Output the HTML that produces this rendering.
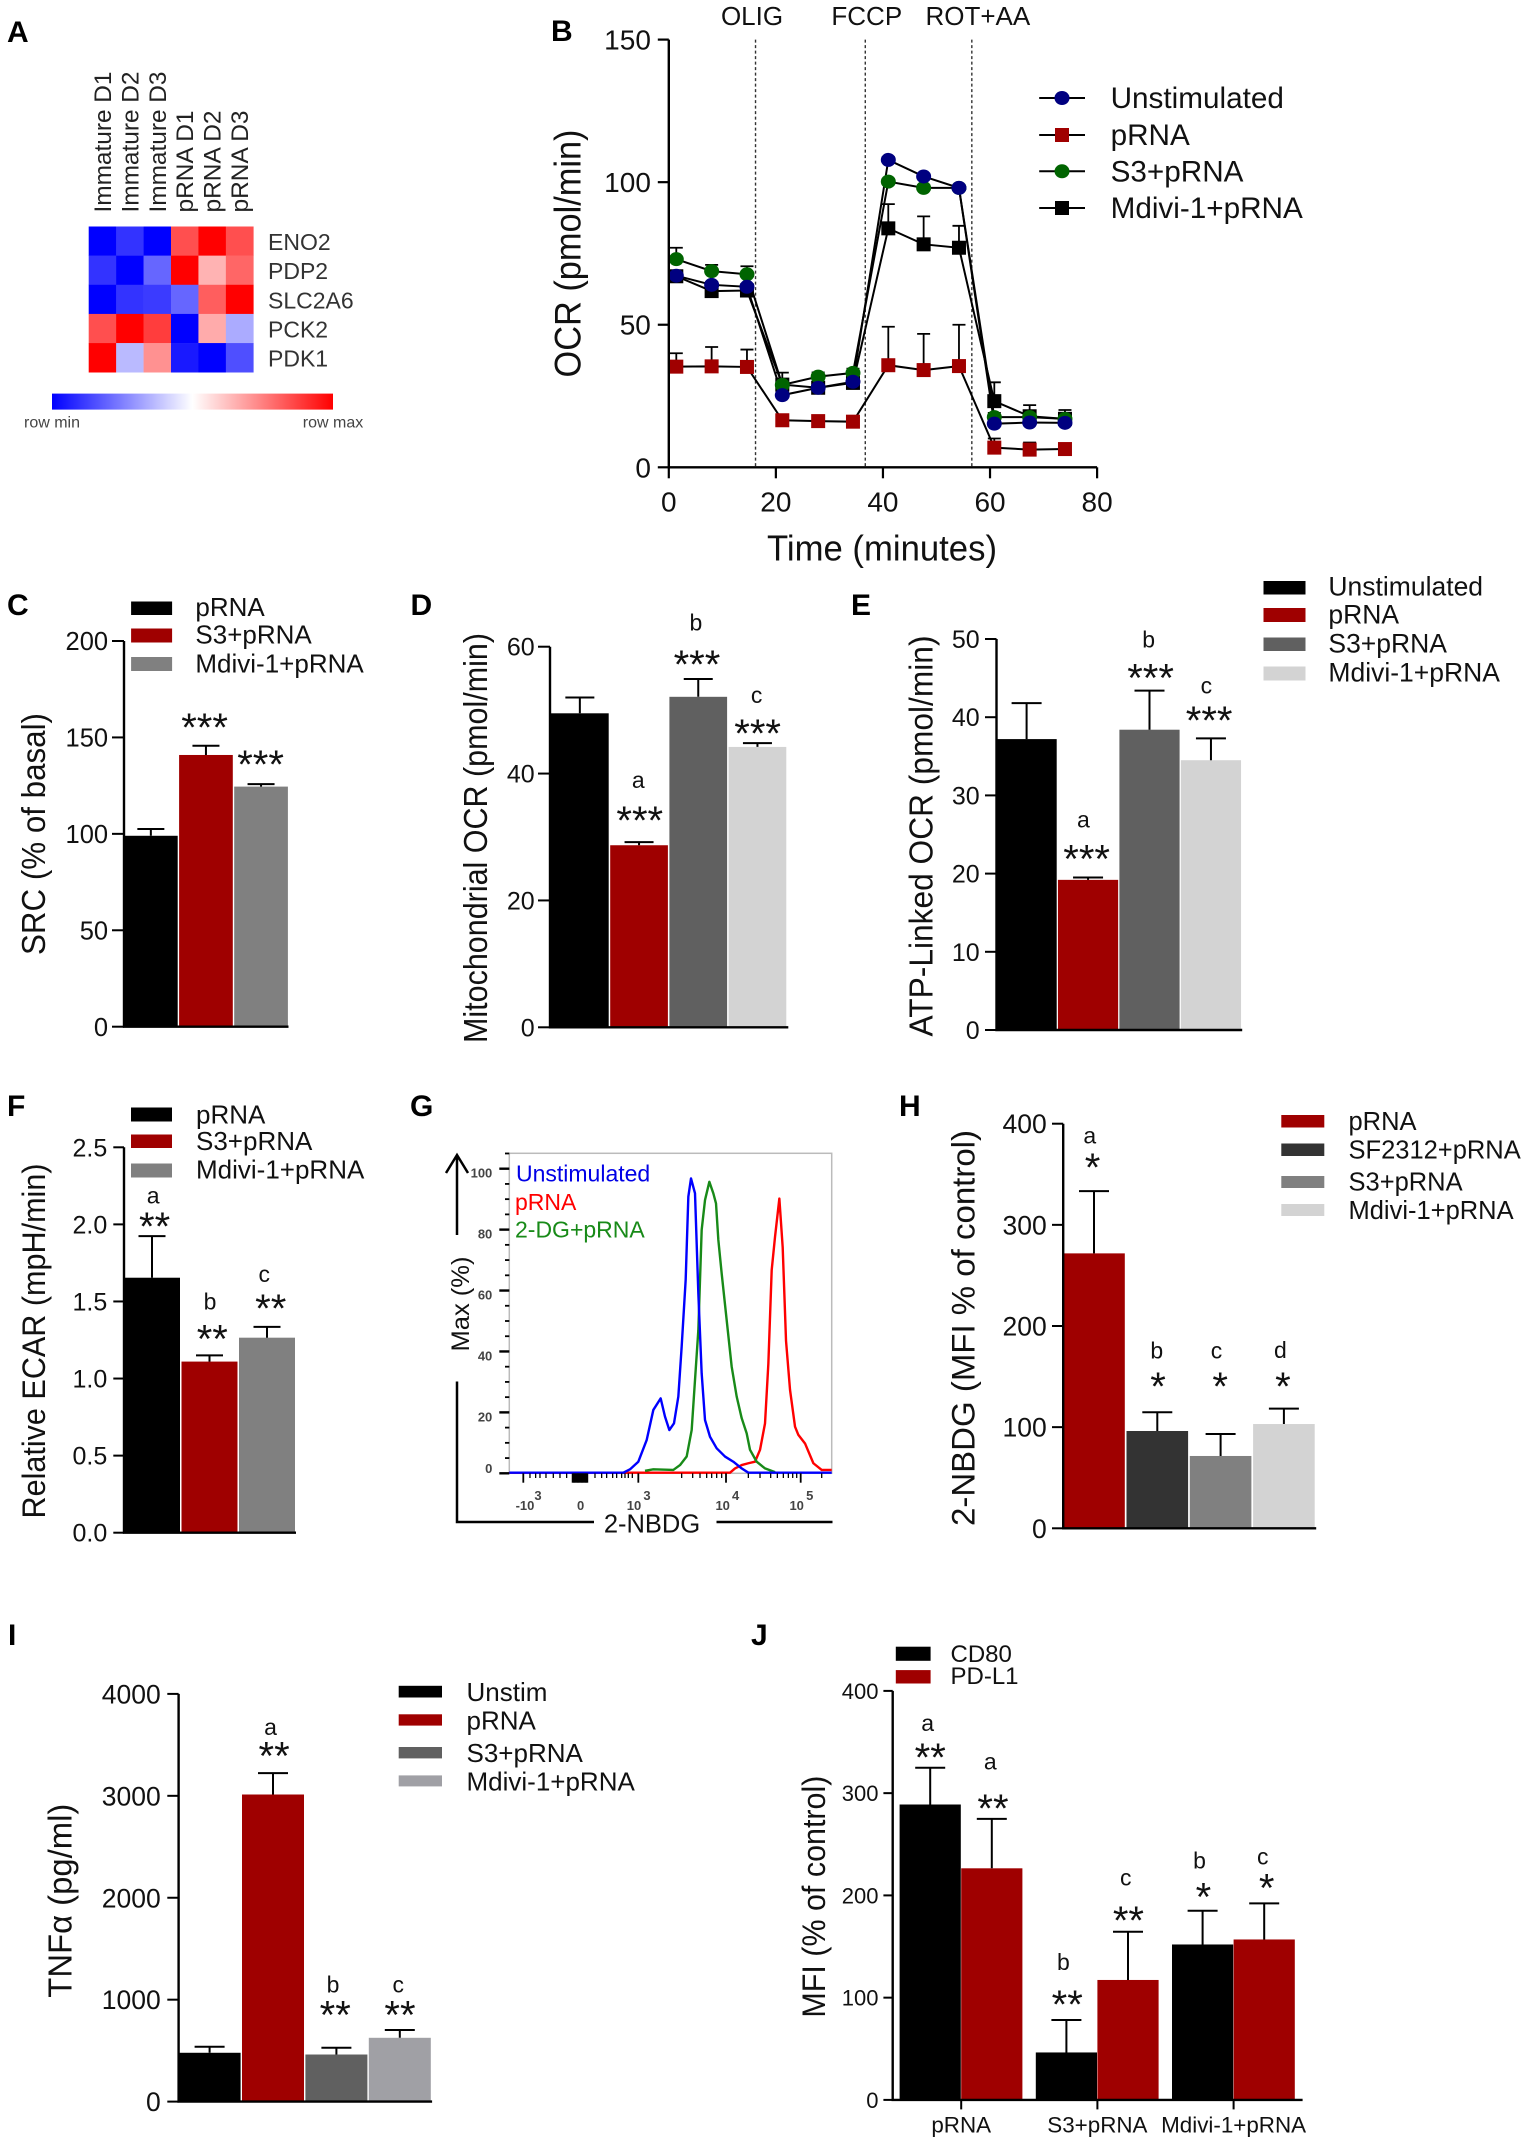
<!DOCTYPE html>
<html lang="en">
<head>
<meta charset="utf-8">
<title>Metabolic profile figure panels A to J</title>
<style>
html,body{margin:0;padding:0;background:#fff;}
svg{display:block;font-family:"Liberation Sans",sans-serif;fill:#111;}
.panel-letter{font-weight:bold;font-size:30px;fill:#000;}
</style>
</head>
<body>
<svg id="figure" width="1530" height="2144" viewBox="0 0 1530 2144" xmlns="http://www.w3.org/2000/svg">
<defs>
<linearGradient id="heat-gradient" x1="0" x2="1" y1="0" y2="0">
<stop offset="0" stop-color="#0000ff"/><stop offset="0.5" stop-color="#ffffff"/><stop offset="1" stop-color="#ff0000"/>
</linearGradient>
</defs>
<rect width="1530" height="2144" fill="#fff"/>

<text class="panel-letter" x="7" y="42">A</text>
<text class="panel-letter" x="551" y="41">B</text>
<text class="panel-letter" x="7" y="615">C</text>
<text class="panel-letter" x="410.5" y="615">D</text>
<text class="panel-letter" x="851" y="615">E</text>
<text class="panel-letter" x="7" y="1116">F</text>
<text class="panel-letter" x="410" y="1116">G</text>
<text class="panel-letter" x="899" y="1116">H</text>
<text class="panel-letter" x="8" y="1645">I</text>
<text class="panel-letter" x="751" y="1645">J</text>

<!-- Panel A -->
<g id="panel-a">
<rect x="52" y="393.6" width="281" height="16" fill="url(#heat-gradient)"/>
<text x="52" y="427.5" font-size="16" text-anchor="middle" fill="#444">row min</text>
<text x="333" y="427.5" font-size="16" text-anchor="middle" fill="#444">row max</text>
</g>

<!-- Panel B -->
<g id="panel-b">
<text transform="translate(580.7,253.5) rotate(-90)" text-anchor="middle" font-size="37" textLength="248" lengthAdjust="spacingAndGlyphs">OCR  (pmol/min)</text>
<text x="882" y="560.3" text-anchor="middle" font-size="36" textLength="230" lengthAdjust="spacingAndGlyphs">Time (minutes)</text>
<g>
<line x1="1039.2" x2="1085" y1="98" y2="98" stroke="#000" stroke-width="2"/><ellipse cx="1062" cy="98" rx="7.5" ry="7" fill="#000080"/>
<text x="1110.6" y="108" font-size="29.7">Unstimulated</text></g>
<g>
<line x1="1039.2" x2="1085" y1="135" y2="135" stroke="#000" stroke-width="2"/><rect x="1055" y="128" width="14" height="14" fill="#a00000"/>
<text x="1110.6" y="145" font-size="29.7">pRNA</text></g>
<g>
<line x1="1039.2" x2="1085" y1="171.3" y2="171.3" stroke="#000" stroke-width="2"/><ellipse cx="1062" cy="171.3" rx="7.5" ry="7" fill="#006400"/>
<text x="1110.6" y="181.3" font-size="29.7">S3+pRNA</text></g>
<g>
<line x1="1039.2" x2="1085" y1="208" y2="208" stroke="#000" stroke-width="2"/><rect x="1055" y="201" width="14" height="14" fill="#000"/>
<text x="1110.6" y="218" font-size="29.7">Mdivi-1+pRNA</text></g>
</g>

<!-- Panel C -->
<g id="panel-c">
<text transform="translate(44.8,834) rotate(-90)" text-anchor="middle" font-size="33" textLength="242" lengthAdjust="spacingAndGlyphs">SRC  (% of basal)</text>
<g><rect x="131.1" y="601.5" width="41" height="13.5" fill="#000"/><text x="195.4" y="616" font-size="26">pRNA</text></g>
<g><rect x="131.1" y="628.5" width="41" height="14" fill="#9f0000"/><text x="195.4" y="643.5" font-size="26">S3+pRNA</text></g>
<g><rect x="131.1" y="657" width="41" height="14" fill="#808080"/><text x="195.4" y="672.5" font-size="26">Mdivi-1+pRNA</text></g>
</g>

<!-- Panel D -->
<g id="panel-d">
<text transform="translate(487.2,838) rotate(-90)" text-anchor="middle" font-size="33" textLength="410" lengthAdjust="spacingAndGlyphs">Mitochondrial OCR (pmol/min)</text>
</g>

<!-- Panel E -->
<g id="panel-e">
<text transform="translate(932.7,836) rotate(-90)" text-anchor="middle" font-size="33" textLength="401" lengthAdjust="spacingAndGlyphs">ATP-Linked OCR (pmol/min)</text>
<g><rect x="1263.5" y="581" width="42" height="13.5" fill="#000"/><text x="1328.4" y="595.5" font-size="26.5">Unstimulated</text></g>
<g><rect x="1263.5" y="608" width="42" height="14" fill="#9f0000"/><text x="1328.4" y="623.5" font-size="26.5">pRNA</text></g>
<g><rect x="1263.5" y="637.5" width="42" height="13.5" fill="#606060"/><text x="1328.4" y="652.5" font-size="26.5">S3+pRNA</text></g>
<g><rect x="1263.5" y="666.5" width="42" height="14" fill="#d3d3d3"/><text x="1328.4" y="681.5" font-size="26.5">Mdivi-1+pRNA</text></g>
</g>

<!-- Panel F -->
<g id="panel-f">
<text transform="translate(45,1341) rotate(-90)" text-anchor="middle" font-size="32" textLength="355" lengthAdjust="spacingAndGlyphs">Relative ECAR (mpH/min)</text>
<g><rect x="131" y="1107.5" width="41" height="14" fill="#000"/><text x="196" y="1123.5" font-size="26">pRNA</text></g>
<g><rect x="131" y="1134.5" width="41" height="13.5" fill="#9f0000"/><text x="196" y="1150" font-size="26">S3+pRNA</text></g>
<g><rect x="131" y="1163.5" width="41" height="14" fill="#808080"/><text x="196" y="1178.5" font-size="26">Mdivi-1+pRNA</text></g>
</g>

<!-- Panel G -->
<g id="panel-g">
<rect x="509.3" y="1153.3" width="322.4" height="320" fill="none" stroke="#bbb" stroke-width="1.5"/>
<text transform="translate(469,1304) rotate(-90)" text-anchor="middle" font-size="25" textLength="95" lengthAdjust="spacingAndGlyphs">Max  (%)</text>
<text x="652" y="1532.5" text-anchor="middle" font-size="25.5">2-NBDG</text>
<path d="M457 1235V1155M446 1173L457 1155L468 1173" fill="none" stroke="#000" stroke-width="2.5"/>
<path d="M457 1381.5V1522H594M716.5 1522H832.5" fill="none" stroke="#000" stroke-width="2.5"/>
<text x="516" y="1181.5" font-size="23" fill="#0000e6">Unstimulated</text>
<text x="515" y="1210" font-size="23" fill="#ff0000">pRNA</text>
<text x="515" y="1237.5" font-size="23" fill="#188a18">2-DG+pRNA</text>
</g>

<!-- Panel H -->
<g id="panel-h">
<text transform="translate(974.5,1328) rotate(-90)" text-anchor="middle" font-size="32" textLength="396" lengthAdjust="spacingAndGlyphs">2-NBDG (MFI % of control)</text>
<g><rect x="1281.3" y="1115" width="43" height="12.5" fill="#9f0000"/><text x="1348.5" y="1130" font-size="25.5">pRNA</text></g>
<g><rect x="1281.3" y="1143.5" width="43" height="12.5" fill="#333"/><text x="1348.5" y="1158.5" font-size="25.5">SF2312+pRNA</text></g>
<g><rect x="1281.3" y="1176" width="43" height="12" fill="#808080"/><text x="1348.5" y="1190.5" font-size="25.5">S3+pRNA</text></g>
<g><rect x="1281.3" y="1204" width="43" height="12" fill="#d3d3d3"/><text x="1348.5" y="1219" font-size="25.5">Mdivi-1+pRNA</text></g>
</g>

<!-- Panel I -->
<g id="panel-i">
<text transform="translate(71.4,1900.7) rotate(-90)" text-anchor="middle" font-size="33" textLength="194" lengthAdjust="spacingAndGlyphs">TNFα  (pg/ml)</text>
<g><rect x="398.7" y="1685.8" width="43.3" height="11.7" fill="#000"/><text x="466.5" y="1701.2" font-size="26">Unstim</text></g>
<g><rect x="398.7" y="1714.3" width="43.3" height="11.3" fill="#9f0000"/><text x="466.5" y="1729.3" font-size="26">pRNA</text></g>
<g><rect x="398.7" y="1747" width="43.3" height="11.4" fill="#606060"/><text x="466.5" y="1762" font-size="26">S3+pRNA</text></g>
<g><rect x="398.7" y="1775.4" width="43.3" height="11" fill="#a0a0a5"/><text x="466.5" y="1790.5" font-size="26">Mdivi-1+pRNA</text></g>
</g>

<!-- Panel J -->
<g id="panel-j">
<text transform="translate(825,1896.6) rotate(-90)" text-anchor="middle" font-size="32" textLength="242" lengthAdjust="spacingAndGlyphs">MFI  (% of control)</text>
<g><rect x="895.8" y="1646.7" width="34.8" height="14.1" fill="#000"/><text x="950.5" y="1661.8" font-size="24">CD80</text></g>
<g><rect x="895.8" y="1670.1" width="34.8" height="13.4" fill="#9f0000"/><text x="950.5" y="1684.2" font-size="24">PD-L1</text></g>
</g>
</svg>

<script>
/* ---------- Panel A data ---------- */
const heatSamples = ['Immature D1','Immature D2','Immature D3','pRNA D1','pRNA D2','pRNA D3'];
const heatGenes = ['ENO2','PDP2','SLC2A6','PCK2','PDK1'];
const heatEno2 = [-1,-0.8,-1,0.69,1,0.69];
const heatPdp2 = [-0.8,-1,-0.6,1,0.3,0.6];
const heatSlc2a6 = [-1,-0.8,-0.77,-0.6,0.63,1];
const heatPck2 = [0.69,1,0.76,-1,0.33,-0.33];
const heatPdk1 = [1,-0.27,0.43,-0.9,-1,-0.69];

/* ---------- Panel B data ---------- */
const ocrTimes = [1.4,8,14.6,21.2,27.9,34.4,41,47.6,54.2,60.8,67.4,74];
const ocrUnstim = [67.2,64,63.3,25.3,27.9,30,107.8,102,98,15.3,15.7,15.6];
const ocrPrna = [35.3,35.4,35.2,16.5,16.2,16,35.8,34.1,35.5,6.9,6.2,6.4];
const ocrS3 = [73,68.8,67.7,28.9,31.8,33.1,100.2,98,98,17.6,17.6,17];
const ocrMdivi = [67,61.8,62,29,27.9,29.6,83.8,78.2,77,23.2,17.9,17];
const ocrUnstimErr = [1,1,1,1,1,1,1,1,1,1,1,1];
const ocrPrnaErr = [4.7,6.8,6.1,1,0.5,1.5,13.5,12.7,14.5,3.2,2.5,0.6];
const ocrS3Err = [4,2.2,2.8,4.3,1.5,1.5,1,1,1,1.5,2,1.6];
const ocrMdiviErr = [1,1,1,2,1.5,1.5,8.5,9.8,7.7,6.6,3.9,3.1];
const ocrInjectionTimes = [16.2,36.7,56.6];
const ocrInjectionNames = ['OLIG','FCCP','ROT+AA'];
const ocrXTicks = [0,20,40,60,80];
const ocrYTicks = [0,50,100,150];

/* ---------- Bar chart data ---------- */
const srcCategories = ['pRNA','S3+pRNA','Mdivi-1+pRNA'];
const srcValues = [99,140.9,124.5];
const srcErrors = [3.5,4.8,1.3];
const srcTicks = [0,50,100,150,200];

const mitoCategories = ['Unstimulated','pRNA','S3+pRNA','Mdivi-1+pRNA'];
const mitoValues = [49.5,28.7,52.1,44.2];
const mitoErrors = [2.5,0.5,2.8,0.6];
const mitoTicks = [0,20,40,60];

const atpCategories = ['Unstimulated','pRNA','S3+pRNA','Mdivi-1+pRNA'];
const atpValues = [37.2,19.2,38.4,34.5];
const atpErrors = [4.6,0.3,5,2.8];
const atpTicks = [0,10,20,30,40,50];

const ecarCategories = ['pRNA','S3+pRNA','Mdivi-1+pRNA'];
const ecarValues = [1.654,1.11,1.265];
const ecarErrors = [0.27,0.04,0.07];
const ecarTicks = [0,0.5,1,1.5,2,2.5];
const ecarTickLabels = ['0.0','0.5','1.0','1.5','2.0','2.5'];

const nbdgCategories = ['pRNA','SF2312+pRNA','S3+pRNA','Mdivi-1+pRNA'];
const nbdgValues = [271.8,96.2,71.5,103.1];
const nbdgErrors = [61.6,18.5,21.7,15.2];
const nbdgTicks = [0,100,200,300,400];

const tnfCategories = ['Unstim','pRNA','S3+pRNA','Mdivi-1+pRNA'];
const tnfValues = [479,3013,462,626];
const tnfErrors = [59,210,66,76];
const tnfTicks = [0,1000,2000,3000,4000];

const mfiCategories = ['pRNA','S3+pRNA','Mdivi-1+pRNA'];
const mfiCd80 = [288.9,46.4,152];
const mfiPdl1 = [226.5,117.3,156.9];
const mfiCd80Err = [35.9,31.7,33];
const mfiPdl1Err = [48.3,47.1,35.3];
const mfiTicks = [0,100,200,300,400];

/* ---------- Panel G data (channel 0-967, percent of max) ---------- */
const flowUnstimChannels = [0,342,362,387,412,432,454,467,480,494,507,517,529,537,545,557,567,577,587,602,622,647,672,697,717,967];
const flowUnstimPercent = [0.2,0.2,1.3,3.8,10.9,20.8,24.6,18.6,14.2,16.4,25.2,41.6,63.5,90.8,96.8,91.9,59.1,32.8,17.5,12,8.2,5.5,3.8,1.6,0.2,0.2];
const flowDgChannels = [407,432,492,512,532,547,557,567,577,587,600,612,620,627,637,652,667,682,697,712,722,742,767,797];
const flowDgPercent = [0.8,1.3,1.1,2.7,5.5,14.2,30.6,47,79.9,89.7,95.7,91.9,88.6,76.6,65.6,50.3,35,25.2,18.1,13.1,7.7,3.8,1.6,0.4];
const flowPrnaChannels = [0,662,677,697,717,737,752,767,777,787,797,810,820,830,842,857,867,887,912,937,967];
const flowPrnaPercent = [0.2,0.2,1.6,2.7,3.3,3.8,7.7,16.4,36,66.7,77.6,90.2,74.2,43.5,27.4,15.3,12.6,9.8,3.3,1.1,1.1];
const flowYTicks = [0,20,40,60,80,100];
const flowYMinorTicks = [5,10,15,25,30,35,45,50,55,65,70,75,85,90,95,105];
const flowXMajorTicks = [42,190,194,198,202,206,210,214,218,222,226,230,234,387,650,874];
const flowXMinorTicks = [62,79,92,110,132,152,172,257,277,292,310,322,337,347,357,369,517,550,572,592,607,622,637,717,752,784,804,822,837,850,862,937];
const flowXTickChannels = [47,214,374,640,862];
const flowXTickBases = ['-10','0','10','10','10'];
const flowXTickExponents = ['3','','3','4','5'];

/* ---------- Helpers ---------- */
const NS = 'http://www.w3.org/2000/svg';
function make(parent, tag, attrs, label) {
  const el = document.createElementNS(NS, tag);
  for (const k in attrs) el.setAttribute(k, attrs[k]);
  if (label !== undefined) el.textContent = label;
  parent.appendChild(el);
  return el;
}
const panel = id => document.getElementById(id);

/* ---------- Panel A ---------- */
function heatColor(v) {
  const c = Math.round(255 * (1 - Math.abs(v)));
  return v < 0 ? `rgb(${c},${c},255)` : `rgb(255,${c},${c})`;
}
(function drawHeatmap() {
  const g = panel('panel-a');
  const rows = [heatEno2, heatPdp2, heatSlc2a6, heatPck2, heatPdk1];
  const left = 88.7, top = 226.5, cw = 164.6 / heatSamples.length, ch = 145.7 / heatGenes.length;
  rows.forEach((row, r) => {
    row.forEach((v, c) => {
      const cell = make(g, 'rect', {x: left + c * cw, y: top + r * ch, width: cw + 0.3, height: ch + 0.3, fill: heatColor(v)});
      
      
    });
    const label = make(g, 'text', {x: 268, y: top + (r + 0.5) * ch + 9, 'font-size': 23, fill: '#333'}, heatGenes[r]);
    
    
  });
  heatSamples.forEach((s, c) => {
    const bx = left + (c + 0.5) * cw + 8.5;
    const len = s.indexOf('Immature') === 0 ? 141 : 102;
    const label = make(g, 'text', {transform: `translate(${bx},212.5) rotate(-90)`, 'font-size': 24.5, fill: '#222', textLength: len, lengthAdjust: 'spacingAndGlyphs'}, s);
    
    
  });
})();

/* ---------- Panel B ---------- */
(function drawOcr() {
  const g = panel('panel-b');
  const xB = t => 668.8 + t * (1097.1 - 668.8) / 80;
  const yB = v => 467.3 - v * (467.3 - 39.6) / 150;
  ocrInjectionTimes.forEach((t, i) => {
    const line = make(g, 'line', {x1: xB(t), x2: xB(t), y1: yB(150), y2: yB(0), stroke: '#333', 'stroke-width': 1.4, 'stroke-dasharray': '3 2.5'});
    
    
    const label = make(g, 'text', {x: xB(t) + [-3.5, 1.5, 6][i], y: 25, 'text-anchor': 'middle', 'font-size': 26}, ocrInjectionNames[i]);
    
    
  });
  const series = [
    {name: 'mdivi', v: ocrMdivi, e: ocrMdiviErr, c: '#000', sq: true},
    {name: 's3', v: ocrS3, e: ocrS3Err, c: '#006400', sq: false},
    {name: 'prna', v: ocrPrna, e: ocrPrnaErr, c: '#a00000', sq: true},
    {name: 'unstim', v: ocrUnstim, e: ocrUnstimErr, c: '#000080', sq: false}
  ];
  series.forEach(s => {
    const pts = s.v.map((v, i) => xB(ocrTimes[i]) + ',' + yB(v)).join(' ');
    const path = make(g, 'polyline', {points: pts, fill: 'none', stroke: '#000', 'stroke-width': 2});
    
    
    s.v.forEach((v, i) => {
      const px = xB(ocrTimes[i]);
      const err = make(g, 'path', {d: `M${px} ${yB(v)}V${yB(v + s.e[i])}M${px - 6.5} ${yB(v + s.e[i])}H${px + 6.5}`, fill: 'none', stroke: '#000', 'stroke-width': 1.8});
      
      
    });
  });
  series.forEach(s => {
    s.v.forEach((v, i) => {
      const px = xB(ocrTimes[i]), py = yB(v);
      const m = s.sq
        ? make(g, 'rect', {x: px - 7, y: py - 7, width: 14, height: 14, fill: s.c})
        : make(g, 'ellipse', {cx: px, cy: py, rx: 7.5, ry: 7, fill: s.c});
      
      
    });
  });
  const axes = make(g, 'path', {d: `M${xB(80)} ${yB(0)}H${xB(0)}V${yB(150)}`, fill: 'none', stroke: '#000', 'stroke-width': 2.4});
  
  
  ocrYTicks.forEach(t => {
    const tick = make(g, 'line', {x1: xB(0) - 11, x2: xB(0), y1: yB(t), y2: yB(t), stroke: '#000', 'stroke-width': 2.2});
    
    
    const label = make(g, 'text', {x: 650.9, y: yB(t) + 10, 'text-anchor': 'end', 'font-size': 28}, String(t));
    
    
  });
  ocrXTicks.forEach(t => {
    const tick = make(g, 'line', {x1: xB(t), x2: xB(t), y1: yB(0), y2: yB(0) + 11, stroke: '#000', 'stroke-width': 2.2});
    
    
    const label = make(g, 'text', {x: xB(t), y: 511.5, 'text-anchor': 'middle', 'font-size': 28}, String(t));
    
    
  });
})();

/* ---------- Generic bars ---------- */
function yScale(cfg) {
  return v => cfg.y0 - v * (cfg.y0 - cfg.yTop) / cfg.max;
}
function drawBars(cfg) {
  const g = panel(cfg.id), y = yScale(cfg);
  const centers = [], tops = [];
  cfg.values.forEach((v, i) => {
    const bx = cfg.left + i * cfg.pitch, cx = bx + cfg.width / 2;
    const color = cfg.colors[i % cfg.colors.length];
    const bar = make(g, 'rect', {x: bx, y: y(v), width: cfg.width, height: cfg.y0 - y(v), fill: color});
    
    
    const topV = v + cfg.errors[i];
    const err = make(g, 'path', {d: `M${cx} ${y(v)}V${y(topV)}M${cx - cfg.cap} ${y(topV)}H${cx + cfg.cap}`, fill: 'none', stroke: '#000', 'stroke-width': 2});
    
    
    centers.push(cx);
    tops.push(y(topV));
  });
  return {
    letter(i, text, dx, dy) {
      const t = make(g, 'text', {x: centers[i] + dx, y: tops[i] - dy, 'text-anchor': 'middle', 'font-size': 23}, text);
      
      
    },
    stars(i, text, dx, dy) {
      const t = make(g, 'text', {x: centers[i] + dx, y: tops[i] - dy + 20, 'text-anchor': 'middle', 'font-size': 40}, text);
      
      
    }
  };
}
function drawAxes(cfg) {
  const g = panel(cfg.id), y = yScale(cfg);
  const axes = make(g, 'path', {d: `M${cfg.xEnd} ${cfg.y0}H${cfg.axisX}V${cfg.yTop}`, fill: 'none', stroke: '#000', 'stroke-width': 2.4});
  
  
  cfg.ticks.forEach((t, i) => {
    const tick = make(g, 'line', {x1: cfg.axisX - cfg.tickLen, x2: cfg.axisX, y1: y(t), y2: y(t), stroke: '#000', 'stroke-width': 2});
    
    
    const text = cfg.tickLabels ? cfg.tickLabels[i] : String(t);
    const label = make(g, 'text', {x: cfg.labelRight, y: y(t) + cfg.font * 0.36, 'text-anchor': 'end', 'font-size': cfg.font}, text);
    
    
  });
}

/* Panel C */
const cfgC = {id: 'panel-c', categories: srcCategories, values: srcValues, errors: srcErrors, ticks: srcTicks,
  colors: ['#000', '#9f0000', '#808080'], left: 124, pitch: 55.1, width: 53.7, cap: 13.5,
  axisX: 124, xEnd: 288.5, y0: 1026.7, yTop: 641, max: 200, tickLen: 12, labelRight: 108.1, font: 25.5};
const chartC = drawBars(cfgC);
drawAxes(cfgC);
chartC.stars(1, '***', -1.4, 24.7);
chartC.stars(2, '***', -0.5, 26);

/* Panel D */
const cfgD = {id: 'panel-d', categories: mitoCategories, values: mitoValues, errors: mitoErrors, ticks: mitoTicks,
  colors: ['#000', '#9f0000', '#606060', '#d3d3d3'], left: 551, pitch: 59.2, width: 57.7, cap: 14.5,
  axisX: 550, xEnd: 788.3, y0: 1027.3, yTop: 646.7, max: 60, tickLen: 12, labelRight: 534.7, font: 25};
const chartD = drawBars(cfgD);
drawAxes(cfgD);
chartD.letter(1, 'a', -0.8, 54);
chartD.stars(1, '***', 0.7, 28);
chartD.letter(2, 'b', -2.3, 48.6);
chartD.stars(2, '***', -1.3, 21.3);
chartD.letter(3, 'c', -0.8, 40);
chartD.stars(3, '***', 0.2, 16.3);

/* Panel E */
const cfgE = {id: 'panel-e', categories: atpCategories, values: atpValues, errors: atpErrors, ticks: atpTicks,
  colors: ['#000', '#9f0000', '#606060', '#d3d3d3'], left: 996.5, pitch: 61.45, width: 60.2, cap: 15,
  axisX: 996.5, xEnd: 1242.2, y0: 1030, yTop: 639, max: 50, tickLen: 11.5, labelRight: 979.7, font: 25};
const chartE = drawBars(cfgE);
drawAxes(cfgE);
chartE.letter(1, 'a', -4.7, 50);
chartE.stars(1, '***', -1.4, 25);
chartE.letter(2, 'b', -0.8, 43);
chartE.stars(2, '***', 1.1, 19.3);
chartE.letter(3, 'c', -4.6, 44.7);
chartE.stars(3, '***', -1.8, 24.3);

/* Panel F */
const cfgF = {id: 'panel-f', categories: ecarCategories, values: ecarValues, errors: ecarErrors, ticks: ecarTicks, tickLabels: ecarTickLabels,
  colors: ['#000', '#9f0000', '#808080'], left: 124, pitch: 57.5, width: 56, cap: 13.5,
  axisX: 124, xEnd: 296, y0: 1532.7, yTop: 1147.3, max: 2.5, tickLen: 10.7, labelRight: 107.3, font: 25};
const chartF = drawBars(cfgF);
drawAxes(cfgF);
chartF.letter(0, 'a', 1.2, 32.7);
chartF.stars(0, '**', 2.6, 16);
chartF.letter(1, 'b', 0.5, 46);
chartF.stars(1, '**', 2.8, 23);
chartF.letter(2, 'c', -2.7, 44.7);
chartF.stars(2, '**', 3.7, 24.7);

/* Panel H */
const cfgH = {id: 'panel-h', categories: nbdgCategories, values: nbdgValues, errors: nbdgErrors, ticks: nbdgTicks,
  colors: ['#9f0000', '#333333', '#808080', '#d3d3d3'], left: 1063.2, pitch: 63.3, width: 61.6, cap: 15,
  axisX: 1063.2, xEnd: 1316.2, y0: 1528.3, yTop: 1123.7, max: 400, tickLen: 11.2, labelRight: 1046.7, font: 26.5};
const chartH = drawBars(cfgH);
drawAxes(cfgH);
chartH.letter(0, 'a', -4.2, 47.7);
chartH.stars(0, '*', -1.4, 30);
chartH.letter(1, 'b', -0.5, 54);
chartH.stars(1, '*', 0.8, 32.3);
chartH.letter(2, 'c', -4.1, 75.7);
chartH.stars(2, '*', -0.4, 54);
chartH.letter(3, 'd', -3.5, 50.4);
chartH.stars(3, '*', -1, 28.7);

/* Panel I */
const cfgI = {id: 'panel-i', categories: tnfCategories, values: tnfValues, errors: tnfErrors, ticks: tnfTicks,
  colors: ['#000', '#9f0000', '#606060', '#a0a0a5'], left: 178.6, pitch: 63.4, width: 62, cap: 15,
  axisX: 178.6, xEnd: 432.1, y0: 2101.6, yTop: 1693.9, max: 4000, tickLen: 11.3, labelRight: 160.7, font: 26.5};
const chartI = drawBars(cfgI);
drawAxes(cfgI);
chartI.letter(1, 'a', -2.5, 37.9);
chartI.stars(1, '**', 1.1, 23.8);
chartI.letter(2, 'b', -3.4, 55.5);
chartI.stars(2, '**', -1.2, 39.3);
chartI.letter(3, 'c', -1.6, 37.7);
chartI.stars(3, '**', 0.2, 21.5);

/* Panel J */
const cfgJ1 = {id: 'panel-j', categories: mfiCategories.map(c => 'cd80-' + c), values: mfiCd80, errors: mfiCd80Err, ticks: mfiTicks,
  colors: ['#000'], left: 899.6, pitch: 136.2, width: 61.2, cap: 15,
  axisX: 892.7, xEnd: 1302.6, y0: 2099.9, yTop: 1690.9, max: 400, tickLen: 9.3, labelRight: 878.5, font: 22};
const cfgJ2 = Object.assign({}, cfgJ1, {categories: mfiCategories.map(c => 'pd-l1-' + c), values: mfiPdl1, errors: mfiPdl1Err, colors: ['#9f0000'], left: 961.2});
const chartJ1 = drawBars(cfgJ1);
const chartJ2 = drawBars(cfgJ2);
drawAxes(cfgJ1);
mfiCategories.forEach((c, i) => {
  const gx = cfgJ2.left + i * cfgJ2.pitch;
  const tick = make(panel('panel-j'), 'line', {x1: gx, x2: gx, y1: cfgJ1.y0, y2: cfgJ1.y0 + 9.5, stroke: '#000', 'stroke-width': 2});
  
  
  const label = make(panel('panel-j'), 'text', {x: gx, y: 2132.4, 'text-anchor': 'middle', 'font-size': 22.4}, c);
  
  
});
chartJ1.letter(0, 'a', -2.6, 36.6);
chartJ1.stars(0, '**', 0, 16.8);
chartJ2.letter(0, 'a', -1.5, 49.4);
chartJ2.stars(0, '**', 1.2, 16.9);
chartJ1.letter(1, 'b', -3, 50);
chartJ1.stars(1, '**', 0.8, 21.8);
chartJ2.letter(1, 'c', -2.3, 46.4);
chartJ2.stars(1, '**', 0.4, 17.8);
chartJ1.letter(2, 'b', -3.1, 42);
chartJ1.stars(2, '*', 0.8, 20);
chartJ2.letter(2, 'c', -1.5, 38.9);
chartJ2.stars(2, '*', 2.5, 21.9);

/* ---------- Panel G ---------- */
(function drawFlow() {
  const g = panel('panel-g');
  const xF = c => 509.3 + c * 322.4 / 967;
  const yF = p => 1473.3 - p * 3.046;
  const curves = [
    {name: 'prna', ch: flowPrnaChannels, p: flowPrnaPercent, c: '#ff0000'},
    {name: '2dg-prna', ch: flowDgChannels, p: flowDgPercent, c: '#188a18'},
    {name: 'unstimulated', ch: flowUnstimChannels, p: flowUnstimPercent, c: '#0000ff'}
  ];
  curves.forEach(cv => {
    const pts = cv.ch.map((c, i) => xF(c) + ',' + yF(cv.p[i])).join(' ');
    const line = make(g, 'polyline', {points: pts, fill: 'none', stroke: cv.c, 'stroke-width': 2.4, 'stroke-linejoin': 'round'});
    
    
  });
  flowYTicks.forEach(t => {
    const tick = make(g, 'line', {x1: 499.3, x2: 509.3, y1: yF(t), y2: yF(t), stroke: '#000', 'stroke-width': 2.4});
    
    
    const label = make(g, 'text', {x: 492.3, y: yF(t) + (t === 0 ? -0.5 : 9), 'text-anchor': 'end', 'font-size': 13, fill: '#444', 'font-weight': 'bold'}, String(t));
    
    
  });
  flowYMinorTicks.forEach(t => {
    const tick = make(g, 'line', {x1: 505, x2: 509.3, y1: yF(t), y2: yF(t), stroke: '#000', 'stroke-width': 1.8});
    
    
  });
  flowXMajorTicks.forEach(c => {
    const tick = make(g, 'line', {x1: xF(c), x2: xF(c), y1: 1473.3, y2: 1482.7, stroke: '#000', 'stroke-width': 1.8});
    
    
  });
  flowXMinorTicks.forEach(c => {
    const tick = make(g, 'line', {x1: xF(c), x2: xF(c), y1: 1473.3, y2: 1478, stroke: '#000', 'stroke-width': 1.3});
    
    
  });
  flowXTickChannels.forEach((c, i) => {
    const label = make(g, 'text', {x: xF(c), y: 1510, 'text-anchor': 'middle', 'font-size': 13, fill: '#444', 'font-weight': 'bold'}, flowXTickBases[i]);
    
    
    if (flowXTickExponents[i]) {
      const sup = make(g, 'text', {x: xF(c) + 13, y: 1500, 'text-anchor': 'middle', 'font-size': 13, fill: '#444', 'font-weight': 'bold'}, flowXTickExponents[i]);
      
      
    }
  });
})();
</script>
</body>
</html>
